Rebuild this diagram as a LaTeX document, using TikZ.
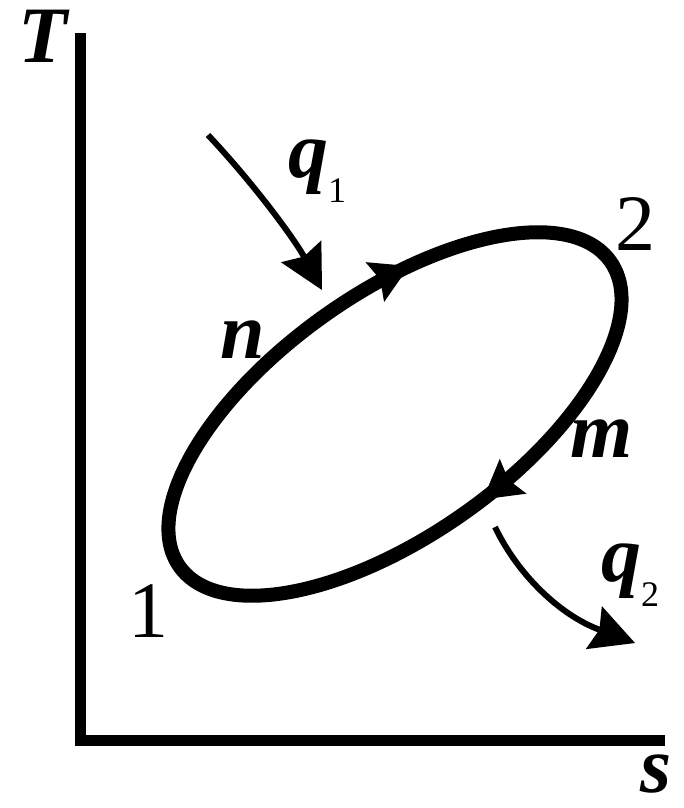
\documentclass[tikz,border=0pt]{standalone}
\usepackage{fontspec}
\setmainfont{Liberation Serif}
\usetikzlibrary{arrows.meta,decorations.markings}

\newcommand{\subidx}[1]{\raisebox{-25pt}{\normalfont\fontsize{36}{36}\selectfont #1}}

\begin{document}
\begin{tikzpicture}[
        x=1pt, y=-1pt,
        axis/.style={line width=11pt, line join=miter},
        loop/.style={line width=14pt, postaction={decorate},
                     decoration={markings,
                       mark=at position 0.232 with {\arrow{Stealth[length=38pt,width=44pt,inset=6pt,line width=0pt]}},
                       mark=at position 0.828 with {\arrow{Stealth[length=38pt,width=44pt,inset=6pt,line width=0pt]}}}},
        heat/.style={line width=6pt, -{Stealth[length=44pt,width=46pt,inset=6pt,line width=0pt]}},
        lbl/.style={inner sep=0pt, anchor=base west, font=\fontsize{80}{90}\selectfont\bfseries\itshape},
        num/.style={inner sep=0pt, anchor=base west, font=\fontsize{80}{90}\selectfont}
    ]
        \useasboundingbox (0,0) rectangle (683,808);
        \coordinate (top) at (80,33);
        \coordinate (O) at (80,740);
        \coordinate (send) at (665,740);
        \draw[axis] (top) -- (O) -- (send);
        \node[lbl] (T) at (18,63) {T};
        \node[lbl] (s) at (640,792) {s};

        \coordinate (c) at (395,414);
        \draw[loop, rotate around={35.3:(c)}] (c) ellipse [x radius=264, y radius=121];

        \node[num] (p1) at (128,637) {1};
        \node[num] (p2) at (615,250) {2};
        \node[lbl] (n) at (220,358) {n};
        \node[lbl] (m) at (570,457) {m};

        \coordinate (q1s) at (208,135);
        \coordinate (q1e) at (322,290);
        \draw[heat] (q1s) .. controls (255,185) and (295,240) .. (q1e);
        \node[lbl] (q1) at (288,177) {q\subidx{1}};

        \coordinate (q2s) at (495,527);
        \coordinate (q2e) at (635,643);
        \draw[heat] (q2s) .. controls (518,575) and (560,615) .. (q2e);
        \node[lbl] (q2) at (601,581) {q\subidx{2}};
    \end{tikzpicture}
\end{document}
